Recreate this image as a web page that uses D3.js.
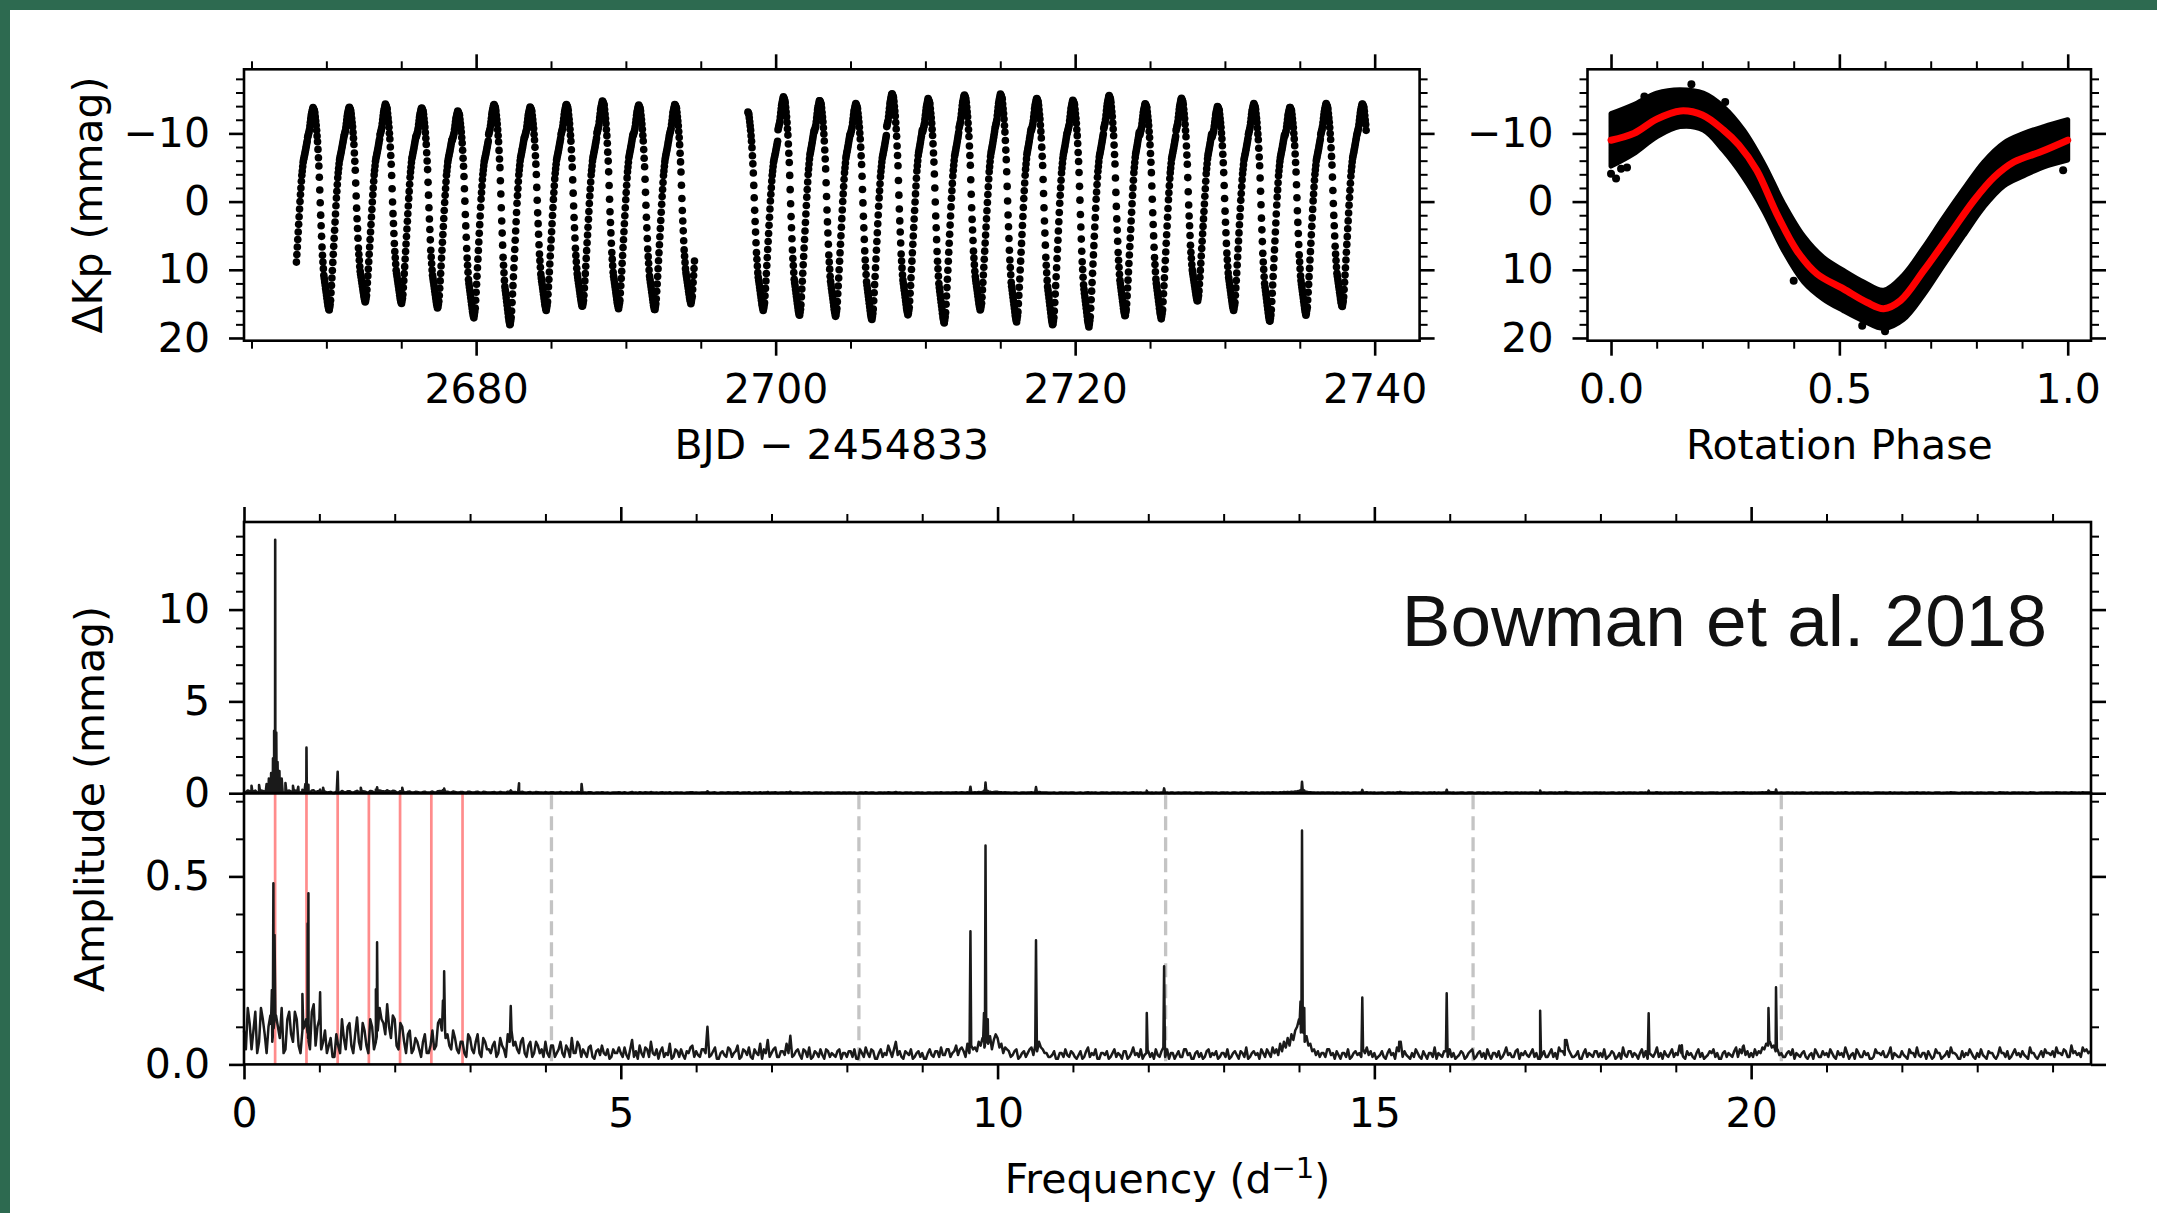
<!DOCTYPE html>
<html><head><meta charset="utf-8">
<script src="https://cdn.jsdelivr.net/npm/d3@7"></script>
<style>
html,body{margin:0;padding:0;background:#fff;overflow:hidden;}
svg{display:block;}
</style></head><body>
<svg id="chart" width="2157" height="1213"></svg>
<script>
// ================= DATA =================
// Light curve: observed windows (BJD - 2454833) and plotted sampling step (d)
const lcSegments = [[2668.0, 2694.6], [2698.15, 2739.45]];
const lcCadence = 0.03;
// rotation period / epoch of phase 0 read from light-curve peaks
const rotPeriod = 2.416;
const rotEpoch = 2668.74;
// rotational model (red curve in the phase plot)
const modelPhase = [0.00, 0.05, 0.10, 0.152, 0.20, 0.246, 0.28, 0.319, 0.363, 0.407, 0.451, 0.509, 0.561, 0.597, 0.634, 0.685, 0.743, 0.795, 0.839, 0.882, 0.941, 1.00];
const modelMag   = [-9.0, -10.0, -12.1, -13.3, -12.7, -10.5, -8.3, -4.6, 1.8, 7.2, 10.6, 12.8, 14.8, 15.7, 14.5, 10.1, 4.7, -0.2, -3.6, -5.8, -7.3, -9.0];
// per-rotation-cycle extreme values (cycles -1 .. 29)
const cycleFirst = -1;
const cycleMax = [-14.0, -14.3, -14.4, -14.8, -14.3, -13.8, -14.8, -14.4, -14.8, -15.3, -14.7, -14.8, -14.5, -13.9,
                  -15.9, -15.4, -14.9, -16.4, -15.6, -16.2, -16.3, -15.7, -15.4, -16.1, -14.9, -15.7, -14.5, -14.9, -14.4, -14.9, -14.9];
const cycleMin = [15.5, 16.5, 15.3, 15.5, 16.2, 17.6, 18.7, 16.5, 16.0, 16.2, 16.5, 15.5, 16.0, 16.5,
                  17.3, 17.4, 17.9, 17.2, 18.4, 16.5, 18.2, 18.7, 18.9, 17.4, 17.7, 15.2, 16.5, 18.2, 17.2, 16.0, 16.0];
// phase-folded data cloud: upper / lower envelope, plus isolated points
const envPhase = [0.0, 0.049, 0.10, 0.151, 0.202, 0.246, 0.29, 0.334, 0.378, 0.422, 0.465, 0.509, 0.553, 0.597, 0.64, 0.684, 0.728, 0.772, 0.816, 0.86, 0.904, 0.948, 1.0];
const envUpper = [-12.9, -14.2, -15.9, -16.4, -15.9, -13.9, -10.5, -5.6, 0.3, 5.1, 8.2, 10.1, 11.8, 13.0, 10.8, 6.8, 2.4, -1.8, -5.8, -8.6, -10.0, -11.0, -12.0];
const envLower = [-5.2, -7.0, -9.5, -11.0, -10.5, -7.5, -3.6, 1.3, 7.2, 11.8, 14.3, 16.0, 17.5, 18.6, 17.3, 13.7, 9.3, 5.0, 0.8, -2.3, -3.8, -5.1, -6.1];
const outlierPhase = [0.0, 0.011, 0.022, 0.073, 0.176, 0.25, 0.40, 0.55, 0.99, 0.60, 0.035];
const outlierMag   = [-4.1, -3.4, -4.8, -15.4, -17.2, -14.6, 11.6, 18.2, -4.6, 19.0, -5.0];

// Amplitude spectrum noise floor of the residuals (units of 0.001 mmag):
// noiseRows at f = i*0.05, noiseMidRows at f = (i+0.5)*0.05, for 0 .. 24.5 d^-1
const noiseStep = 0.05;
const noiseRows = [
 [90,150,40,140,60,120,30,130,110,100,150,40,140,60,120,30,100,70,140,50],
 [120,60,30,70,20,50,120,40,110,30,125,40,90,30,100,60,150,110,160,70],
 [120,40,100,30,90,40,60,20,80,30,90,50,120,140,80,40,70,30,60,20],
 [70,30,80,20,60,40,50,20,70,40,80,90,60,30,70,20,60,30,50,40],
 [60,20,50,30,60,20,40,70,30,50,40,20,50,15,40,50,25,15,40,30],
 [30,45,15,65,35,50,20,40,60,25,15,45,30,55,20,35,40,15,30,50],
 [35,20,40,100,25,45,15,35,20,40,30,50,20,35,45,15,30,55,40,65],
 [30,45,20,35,55,76,25,40,15,35,45,20,30,40,15,35,30,20,40,30],
 [20,35,40,15,30,45,20,35,15,40,30,50,20,60,35,15,30,40,20,35],
 [30,15,40,20,35,45,25,40,30,50,40,35,55,50,45,60,70,60,75,65],
 [70,55,45,35,25,40,20,35,30,45,50,60,40,30,20,35,15,30,40,20],
 [30,15,35,20,45,30,40,15,30,35,20,40,30,15,35,20,45,30,40,25],
 [35,30,40,20,45,40,30,15,35,20,40,30,15,35,30,20,40,30,35,20],
 [30,40,20,35,15,30,45,20,35,30,40,20,30,45,40,55,60,70,80,90],
 [120,95,75,55,40,35,30,20,40,30,35,15,30,40,20,35,30,40,45,35],
 [30,20,35,15,40,30,45,60,35,20,30,40,20,35,15,30,45,30,20,35],
 [40,30,20,35,15,30,40,20,35,30,40,15,30,35,20,45,30,20,40,30],
 [35,20,40,30,15,35,20,40,30,45,35,65,30,20,35,15,40,30,20,35],
 [30,40,20,35,15,30,45,20,35,30,15,40,35,30,20,45,30,35,20,40],
 [30,50,20,35,30,15,40,30,20,35,40,30,15,35,30,20,45,40,50,35],
 [30,40,35,45,55,60,50,40,30,20,35,40,30,20,35,15,30,40,20,35],
 [30,40,20,35,30,45,15,30,40,20,35,30,15,40,30,35,20,45,30,20],
 [35,20,40,30,45,20,30,35,15,40,30,20,35,45,30,15,35,30,40,20],
 [30,40,20,35,30,15,45,30,35,20,40,30,35,20,45,30,15,35,40,30],
 [35,45,30,40,20,50,35,30,45,40,35]
];
const noiseMidRows = [
 [40,110,90,30,150,80,100,60,130,70,30,120,80,140,50,90,120,40,160,100],
 [40,90,50,20,80,30,70,100,50,80,60,110,50,120,40,90,120,80,100,130],
 [50,110,60,80,30,70,40,60,30,50,40,110,90,70,50,90,40,60,30,80],
 [40,60,30,70,40,30,60,30,50,20,60,50,40,60,30,50,20,60,30,20],
 [30,50,20,40,30,50,20,30,60,20,30,45,20,35,25,30,40,20,30,45],
 [20,25,40,20,15,30,45,20,30,40,35,20,25,15,40,20,25,35,45,20],
 [25,40,30,20,35,15,30,25,45,20,35,15,40,25,20,40,25,15,30,20],
 [40,20,35,25,30,20,35,25,40,20,15,35,20,25,40,20,25,35,15,30],
 [35,20,15,40,20,30,40,15,30,20,25,35,40,25,20,35,25,15,30,20],
 [15,30,25,35,20,25,40,20,35,25,45,20,30,40,35,50,45,55,40,80],
 [45,30,40,20,35,15,30,20,40,25,35,45,30,20,25,15,30,20,25,35],
 [20,25,15,35,20,25,15,30,25,15,30,20,25,35,15,30,25,20,15,30],
 [20,15,25,35,20,15,30,25,20,40,25,15,30,20,15,35,20,25,15,30],
 [20,15,30,25,35,20,15,30,25,15,30,40,20,30,25,35,45,50,65,100],
 [85,60,50,35,25,20,30,40,25,15,25,30,20,15,30,25,20,30,25,20],
 [15,25,20,30,25,15,35,20,25,15,20,30,15,25,30,20,15,25,35,20],
 [20,15,25,30,20,35,15,30,20,15,25,30,20,15,30,25,20,35,15,25],
 [25,30,20,15,25,20,30,20,15,35,25,40,20,25,15,30,20,25,35,20],
 [20,15,25,30,20,15,25,35,20,25,30,20,15,25,30,20,15,25,30,20],
 [25,30,15,25,20,30,20,15,25,30,20,15,30,20,25,35,20,30,25,20],
 [20,25,30,40,50,45,35,25,20,30,25,15,25,30,20,25,15,30,20,25],
 [20,30,15,25,20,30,25,15,30,20,25,15,20,30,25,20,30,15,25,20],
 [25,15,30,20,25,30,15,25,20,30,15,25,20,30,25,15,20,25,30,15],
 [20,25,15,30,20,25,30,20,15,30,25,20,25,15,30,20,25,20,30,25],
 [20,30,25,35,20,30,25,20,35,30]
];
// residual peaks (lower panel), d^-1 and mmag
const resPeakFreq = [0.390, 0.405, 0.370, 0.855, 0.845, 0.775, 1.010, 1.766, 1.750, 2.656, 2.640, 3.540, 6.150, 9.640, 9.840, 9.820, 9.870, 10.510, 11.980, 12.210, 14.040, 14.020, 14.070, 14.840, 15.330, 15.960, 17.200, 17.530, 18.640, 19.080, 19.890, 20.230, 20.330];
const resPeakAmp  = [0.482, 0.344, 0.198, 0.455, 0.375, 0.187, 0.192, 0.325, 0.200, 0.248, 0.170, 0.155, 0.100, 0.354, 0.582, 0.137, 0.120, 0.330, 0.137, 0.261, 0.622, 0.167, 0.150, 0.178, 0.060, 0.189, 0.143, 0.065, 0.136, 0.051, 0.047, 0.150, 0.205];
// rotational signal in the original spectrum (upper panel)
const origPeakFreq = [0.414, 0.400, 0.428, 0.385, 0.445, 0.360, 0.470, 0.330, 0.500, 0.300, 0.550, 0.829, 0.815, 0.845, 1.243, 3.650, 4.480, 0.100, 0.200, 0.650, 0.720, 1.050, 1.550, 2.100];
const origPeakAmp  = [13.8, 3.4, 3.3, 1.9, 1.7, 1.1, 1.2, 0.8, 0.8, 0.5, 0.55, 2.48, 0.5, 0.45, 1.17, 0.54, 0.5, 0.4, 0.45, 0.4, 0.35, 0.3, 0.3, 0.3];
// marker lines
const harmonicFreqs = [0.413, 0.829, 1.243, 1.657, 2.071, 2.486, 2.900];
const dashedFreqs = [4.08, 8.16, 12.23, 16.31, 20.40];

// tick values
const lcMajorTicks = [2680, 2700, 2720, 2740];
const lcMinorTicks = [2665, 2670, 2675, 2685, 2690, 2695, 2705, 2710, 2715, 2725, 2730, 2735];
const magMajorTicks = [-10, 0, 10, 20];
const magMinorTicks = [-18, -16, -14, -12, -8, -6, -4, -2, 2, 4, 6, 8, 12, 14, 16, 18];
const phaseMajorTicks = [0, 0.5, 1.0];
const phaseMinorTicks = [0.1, 0.2, 0.3, 0.4, 0.6, 0.7, 0.8, 0.9];
const freqMajorTicks = [0, 5, 10, 15, 20];
const freqMinorTicks = [1, 2, 3, 4, 6, 7, 8, 9, 11, 12, 13, 14, 16, 17, 18, 19, 21, 22, 23, 24];
const ampTopMajorTicks = [0, 5, 10];
const ampTopMinorTicks = [1, 2, 3, 4, 6, 7, 8, 9, 11, 12, 13, 14];
const ampBotMajorTicks = [0, 0.5];
const ampBotMinorTicks = [0.1, 0.2, 0.3, 0.4, 0.6, 0.7];

// ================= DRAWING =================
const svg = d3.select("#chart");
const FONT = "'DejaVu Sans', sans-serif";
const FS = 41;

svg.append("rect").attr("x",0).attr("y",0).attr("width",2157).attr("height",1213).attr("fill","#ffffff");
svg.append("rect").attr("x",0).attr("y",0).attr("width",2157).attr("height",10).attr("fill","#2d6a50");
svg.append("rect").attr("x",0).attr("y",0).attr("width",10).attr("height",1213).attr("fill","#2d6a50");

// panel boxes
const LC = {x0:244, x1:1419.6, y0:69.3, y1:340.7};
const PH = {x0:1587.5, x1:2091, y0:69.3, y1:340.7};
const FT = {x0:244, x1:2091, y0:522, ym:793.2, y1:1064.4};

const xLC = d3.scaleLinear().domain([2664.5, 2743.0]).range([LC.x0, LC.x1]);
const yMag = d3.scaleLinear().domain([-19.4, 20.4]).range([LC.y0, LC.y1]);
const xPH = d3.scaleLinear().domain([-0.0515, 1.051]).range([PH.x0, PH.x1]);
const xFT = d3.scaleLinear().domain([0, 24.51]).range([FT.x0, FT.x1]);
const yTop = d3.scaleLinear().domain([0, 14.77]).range([FT.ym, FT.y0]);
const yBot = d3.scaleLinear().domain([0, 0.7213]).range([FT.y1, FT.ym]);

function axis(orient, scale, major, minor, fmt, tx, ty) {
  const make = {bottom:d3.axisBottom, top:d3.axisTop, left:d3.axisLeft, right:d3.axisRight}[orient];
  const gMin = svg.append("g").attr("transform", `translate(${tx},${ty})`)
    .call(make(scale).tickValues(minor).tickSize(8).tickSizeOuter(0).tickFormat(() => ""));
  const gMaj = svg.append("g").attr("transform", `translate(${tx},${ty})`)
    .call(make(scale).tickValues(major).tickSize(15).tickSizeOuter(0)
      .tickPadding(orient === "left" || orient === "right" ? 19 : 18)
      .tickFormat(fmt ? fmt : () => ""));
  [gMin, gMaj].forEach(g => { g.select(".domain").remove(); g.attr("font-size", null).attr("font-family", null); });
  gMin.selectAll("line").attr("stroke", "#000").attr("stroke-width", 2);
  gMaj.selectAll("line").attr("stroke", "#000").attr("stroke-width", 2.6);
  gMaj.selectAll("text").attr("fill", "#000").style("font-size", FS + "px").style("font-family", FONT);
}
const fmtInt = d => (d < 0 ? "\u2212" + Math.abs(d) : String(d));
const fmt1 = d3.format(".1f");

// ---------- Light curve ----------
const modelInterp = d3.scaleLinear().domain(modelPhase).range(modelMag);
const modelBright = d3.min(modelMag), modelFaint = d3.max(modelMag);
const lcPoints = [];
lcSegments.forEach(([t0, t1]) => {
  for (let t = t0; t <= t1; t += lcCadence) {
    const ph = (t - rotEpoch) / rotPeriod;
    const n = Math.floor(ph);
    const m = modelInterp(ph - n);
    const k = n - cycleFirst;
    const v = m < 0 ? m * (cycleMax[k] + 0.5) / modelBright : m * (cycleMin[k] - 0.5) / modelFaint;
    lcPoints.push([t, v]);
  }
});
svg.append("g").selectAll("circle").data(lcPoints).join("circle")
  .attr("cx", d => xLC(d[0])).attr("cy", d => yMag(d[1])).attr("r", 3.8).attr("fill", "#000");

svg.append("rect").attr("x", LC.x0).attr("y", LC.y0).attr("width", LC.x1 - LC.x0).attr("height", LC.y1 - LC.y0)
  .attr("fill", "none").attr("stroke", "#000").attr("stroke-width", 2.6);
axis("bottom", xLC, lcMajorTicks, lcMinorTicks, fmtInt, 0, LC.y1);
axis("top", xLC, lcMajorTicks, lcMinorTicks, null, 0, LC.y0);
axis("left", yMag, magMajorTicks, magMinorTicks, fmtInt, LC.x0, 0);
axis("right", yMag, magMajorTicks, magMinorTicks, null, LC.x1, 0);

// ---------- Phase plot ----------
const envData = envPhase.map((p, i) => ({p, u: envUpper[i], l: envLower[i]}));
svg.append("path").datum(envData)
  .attr("d", d3.area().x(d => xPH(d.p)).y0(d => yMag(d.l)).y1(d => yMag(d.u)).curve(d3.curveCatmullRom))
  .attr("fill", "#000").attr("stroke", "#000").attr("stroke-width", 5).attr("stroke-linejoin", "round");
svg.append("g").selectAll("circle").data(outlierPhase.map((p, i) => [p, outlierMag[i]])).join("circle")
  .attr("cx", d => xPH(d[0])).attr("cy", d => yMag(d[1])).attr("r", 4).attr("fill", "#000");
svg.append("path").datum(modelPhase.map((p, i) => [p, modelMag[i]]))
  .attr("d", d3.line().x(d => xPH(d[0])).y(d => yMag(d[1])).curve(d3.curveCatmullRom))
  .attr("fill", "none").attr("stroke", "#ff0000").attr("stroke-width", 7).attr("stroke-linecap", "round");

svg.append("rect").attr("x", PH.x0).attr("y", PH.y0).attr("width", PH.x1 - PH.x0).attr("height", PH.y1 - PH.y0)
  .attr("fill", "none").attr("stroke", "#000").attr("stroke-width", 2.6);
axis("bottom", xPH, phaseMajorTicks, phaseMinorTicks, fmt1, 0, PH.y1);
axis("top", xPH, phaseMajorTicks, phaseMinorTicks, null, 0, PH.y0);
axis("left", yMag, magMajorTicks, magMinorTicks, fmtInt, PH.x0, 0);
axis("right", yMag, magMajorTicks, magMinorTicks, null, PH.x1, 0);

// ---------- Amplitude spectra ----------
const noiseOn = noiseRows.flat().map((v, i) => [i * noiseStep, v / 1000]);
const noiseMid = noiseMidRows.flat().map((v, i) => [(i + 0.5) * noiseStep, v / 1000]);
const noisePts = noiseOn.concat(noiseMid).sort((a, b) => a[0] - b[0]);
const noiseInterp = d3.scaleLinear().domain(noisePts.map(d => d[0])).range(noisePts.map(d => d[1])).clamp(true);
function buildSeries(freqs, amps) {
  const pts = noisePts.map(d => [d[0], d[1]]);
  const w = 0.012;
  freqs.forEach((f, k) => {
    pts.push([f - w, noiseInterp(f - w)], [f, amps[k]], [f + w, noiseInterp(f + w)]);
  });
  pts.sort((a, b) => a[0] - b[0]);
  return pts;
}
const resSeries = buildSeries(resPeakFreq, resPeakAmp);
const origSeries = buildSeries(resPeakFreq.concat(origPeakFreq), resPeakAmp.concat(origPeakAmp));

// marker lines in lower panel
svg.append("g").selectAll("line").data(dashedFreqs).join("line")
  .attr("x1", d => xFT(d)).attr("x2", d => xFT(d)).attr("y1", FT.ym + 2).attr("y2", FT.y1)
  .attr("stroke", "#c4c4c4").attr("stroke-width", 3.3).attr("stroke-dasharray", "14,7");
svg.append("g").selectAll("line").data(harmonicFreqs).join("line")
  .attr("x1", d => xFT(d)).attr("x2", d => xFT(d)).attr("y1", FT.ym).attr("y2", FT.y1)
  .attr("stroke", "#ff0000").attr("stroke-opacity", 0.45).attr("stroke-width", 2.7);

svg.append("path").datum(origSeries)
  .attr("d", d3.line().x(d => xFT(d[0])).y(d => yTop(d[1])))
  .attr("fill", "none").attr("stroke", "#1a1a1a").attr("stroke-width", 2.6).attr("stroke-linejoin", "round");
svg.append("path").datum(resSeries)
  .attr("d", d3.line().x(d => xFT(d[0])).y(d => yBot(d[1])))
  .attr("fill", "none").attr("stroke", "#1a1a1a").attr("stroke-width", 2.5).attr("stroke-linejoin", "round");

svg.append("rect").attr("x", FT.x0).attr("y", FT.y0).attr("width", FT.x1 - FT.x0).attr("height", FT.ym - FT.y0)
  .attr("fill", "none").attr("stroke", "#000").attr("stroke-width", 2.6);
svg.append("rect").attr("x", FT.x0).attr("y", FT.ym).attr("width", FT.x1 - FT.x0).attr("height", FT.y1 - FT.ym)
  .attr("fill", "none").attr("stroke", "#000").attr("stroke-width", 2.6);
axis("top", xFT, freqMajorTicks, freqMinorTicks, null, 0, FT.y0);
axis("bottom", xFT, freqMajorTicks, freqMinorTicks, d => String(d), 0, FT.y1);
axis("left", yTop, ampTopMajorTicks, ampTopMinorTicks, d => String(d), FT.x0, 0);
axis("right", yTop, ampTopMajorTicks, ampTopMinorTicks, null, FT.x1, 0);
axis("left", yBot, ampBotMajorTicks, ampBotMinorTicks, fmt1, FT.x0, 0);
axis("right", yBot, ampBotMajorTicks, ampBotMinorTicks, null, FT.x1, 0);

// ---------- Labels ----------
function label(txt, x, y, rot) {
  const t = svg.append("text").attr("text-anchor", "middle").attr("fill", "#000")
    .style("font-size", FS + "px").style("font-family", FONT).text(txt);
  if (rot) t.attr("transform", `translate(${x},${y}) rotate(-90)`).attr("dominant-baseline", "central");
  else t.attr("x", x).attr("y", y);
  return t;
}
label("\u0394Kp (mmag)", 88, 205, true);
label("BJD \u2212 2454833", (LC.x0 + LC.x1) / 2, 459);
label("Rotation Phase", xPH(0.5), 459);
label("Amplitude (mmag)", 90, 799, true);
const fl = svg.append("text").attr("x", (FT.x0 + FT.x1) / 2).attr("y", 1193).attr("text-anchor", "middle")
  .attr("fill", "#000").style("font-size", FS + "px").style("font-family", FONT);
fl.append("tspan").text("Frequency (d");
fl.append("tspan").attr("dy", -15).style("font-size", "29px").text("\u22121");
fl.append("tspan").attr("dy", 15).text(")");

svg.append("text").attr("x", 2047).attr("y", 646).attr("text-anchor", "end").attr("fill", "#111")
  .style("font-size", "73px").style("font-family", "'Liberation Sans', Arial, Helvetica, sans-serif")
  .style("font-weight", 300).text("Bowman et al. 2018");
</script>
</body></html>
